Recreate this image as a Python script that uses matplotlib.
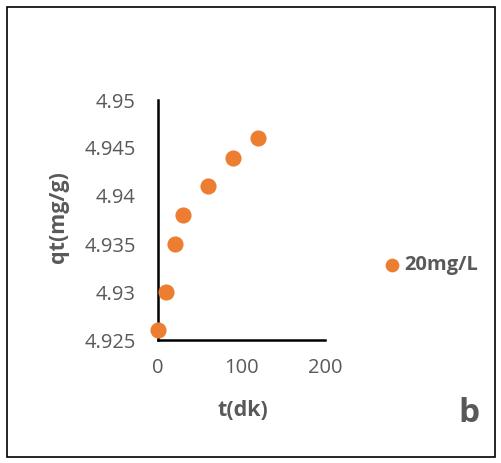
import matplotlib
matplotlib.use("Agg")
import matplotlib.pyplot as plt
from matplotlib.patches import Rectangle

t_dk = [0, 10, 20, 30, 60, 90, 120]
qt = [4.926, 4.930, 4.935, 4.938, 4.941, 4.944, 4.946]
series_label = "20mg/L"
x_ticks = [0, 100, 200]
y_ticks = [4.925, 4.93, 4.935, 4.94, 4.945, 4.95]
y_tick_labels = ["4.925", "4.93", "4.935", "4.94", "4.945", "4.95"]

plt.rcParams['font.family'] = ['Open Sans', 'DejaVu Sans']
grey = "#595959"
orange = "#ED7D31"

W, H = 501, 463
fig = plt.figure(figsize=(W/100, H/100), dpi=100)
fig.patches.append(Rectangle((7/W, 1-457/H), 488/W, 450/H, transform=fig.transFigure,
                             fill=False, edgecolor="black", linewidth=1.2))
ax = fig.add_axes([158/W, 1-340/H, 167/W, 240/H])
ax.scatter(t_dk, qt, s=135, color=orange, zorder=3, clip_on=False, label=series_label, linewidths=0)
ax.set_xlim(0, 200)
ax.set_ylim(4.925, 4.95)
ax.set_xticks(x_ticks)
ax.set_yticks(y_ticks)
ax.set_yticklabels(y_tick_labels)
for s in ["top", "right"]:
    ax.spines[s].set_visible(False)
for s in ["left", "bottom"]:
    ax.spines[s].set_linewidth(1.8)
    ax.spines[s].set_color("black")
ax.tick_params(length=0, labelsize=14.5, colors=grey)
ax.tick_params(axis="x", pad=13)
ax.tick_params(axis="y", pad=16)
ax.set_xlabel("t(dk)", fontsize=15.5, fontweight="bold", color=grey)
ax.set_ylabel("qt(mg/g)", fontsize=15.5, fontweight="bold", color=grey)
ax.xaxis.set_label_coords(243/W, 1-411/H, transform=fig.transFigure)
ax.yaxis.set_label_coords(58/W, 1-217/H, transform=fig.transFigure)
ax.xaxis.label.set_va("center")
ax.yaxis.label.set_va("center")

fig.legend(loc="center left", bbox_to_anchor=(382/W, 1-265/H), frameon=False,
           handletextpad=0.1, markerscale=0.85, prop={'size': 14.5, 'weight': 'bold'},
           labelcolor=grey, handlelength=1.0, borderaxespad=0, borderpad=0)
fig.text(469/W, 1-414/H, "b", fontsize=24, fontweight="bold", color=grey, ha="center", va="center")

fig.savefig("out.png", dpi=100)
